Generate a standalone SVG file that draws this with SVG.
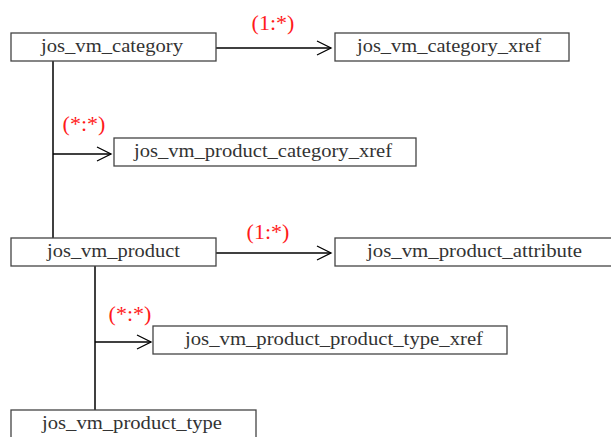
<svg xmlns="http://www.w3.org/2000/svg" width="611" height="437" viewBox="0 0 611 437">
<style>
.box{fill:#fff;stroke:#444;stroke-width:1.3}
.t{font-family:"Liberation Serif","Times New Roman",serif;font-size:18px;fill:#333;text-anchor:middle}
.lbl{font-family:"Liberation Serif","Times New Roman",serif;font-size:22px;fill:#ff1a1a;text-anchor:middle}
.c{stroke:#000;stroke-width:1.5;fill:none}
.ah{stroke:#000;stroke-width:1.3;fill:none}
</style>
<rect width="611" height="437" fill="#fff"/>
<g id="connectors">
<line class="c" x1="216" y1="48" x2="331" y2="48"/>
<polyline class="ah" points="317,41 331,48 317,55"/>
<line class="c" x1="53" y1="61" x2="53" y2="238"/>
<line class="c" x1="53" y1="154" x2="111" y2="154"/>
<polyline class="ah" points="97,147 111,154 97,161"/>
<line class="c" x1="216" y1="253" x2="331" y2="253"/>
<polyline class="ah" points="317,246 331,253 317,260"/>
<line class="c" x1="95" y1="266" x2="95" y2="410"/>
<line class="c" x1="95" y1="342" x2="151" y2="342"/>
<polyline class="ah" points="137,335 151,342 137,349"/>
<text class="lbl" x="273" y="30">(1:*)</text>
<text class="lbl" x="84" y="131">(*:*)</text>
<text class="lbl" x="268" y="239">(1:*)</text>
<text class="lbl" x="130" y="321">(*:*)</text>
</g>
<g id="jos_vm_category">
<rect class="box" x="11" y="33" width="205" height="28"/>
<text class="t" x="112" y="52" textLength="142" lengthAdjust="spacingAndGlyphs">jos_vm_category</text>
</g>
<g id="jos_vm_category_xref">
<rect class="box" x="335" y="33" width="234" height="28"/>
<text class="t" x="449" y="52" textLength="184" lengthAdjust="spacingAndGlyphs">jos_vm_category_xref</text>
</g>
<g id="jos_vm_product_category_xref">
<rect class="box" x="114" y="138" width="302" height="28"/>
<text class="t" x="263" y="157" textLength="258" lengthAdjust="spacingAndGlyphs">jos_vm_product_category_xref</text>
</g>
<g id="jos_vm_product">
<rect class="box" x="11" y="238" width="205" height="28"/>
<text class="t" x="113.5" y="257" textLength="133" lengthAdjust="spacingAndGlyphs">jos_vm_product</text>
</g>
<g id="jos_vm_product_attribute">
<rect class="box" x="335" y="238" width="290" height="28"/>
<text class="t" x="474.5" y="257" textLength="215" lengthAdjust="spacingAndGlyphs">jos_vm_product_attribute</text>
</g>
<g id="jos_vm_product_product_type_xref">
<rect class="box" x="153" y="326" width="354" height="28"/>
<text class="t" x="334" y="345" textLength="298" lengthAdjust="spacingAndGlyphs">jos_vm_product_product_type_xref</text>
</g>
<g id="jos_vm_product_type">
<rect class="box" x="11" y="410" width="245" height="40"/>
<text class="t" x="132" y="429" textLength="180" lengthAdjust="spacingAndGlyphs">jos_vm_product_type</text>
</g>
</svg>
